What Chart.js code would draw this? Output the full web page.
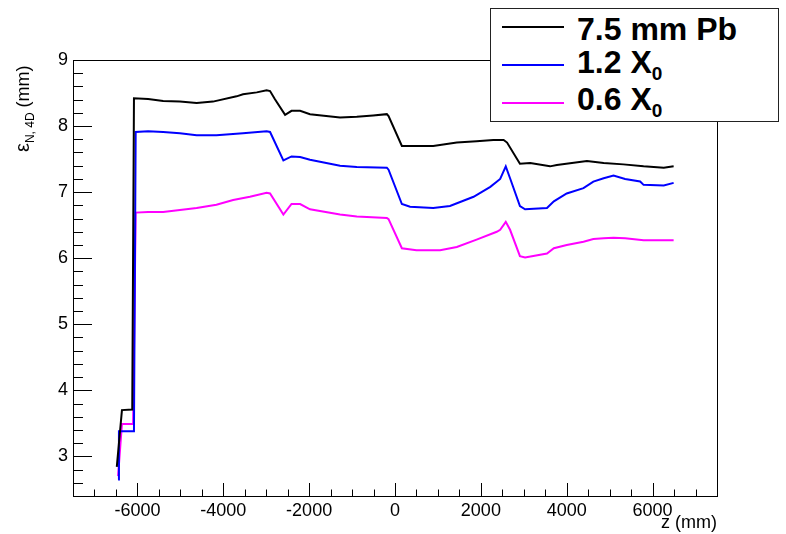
<!DOCTYPE html>
<html>
<head>
<meta charset="utf-8">
<script src="https://cdn.jsdelivr.net/npm/chart.js@4.4.1/dist/chart.umd.min.js"></script>
<style>
  body { margin: 0; background: #fff; }
  #wrap { position: relative; width: 786px; height: 534px; font-family: "Liberation Sans", Arial, sans-serif; color: #000; }
  #ytitle { position: absolute; left: 13px; top: 152px; transform: rotate(-90deg); transform-origin: left top;
    font-size: 18px; line-height: 18px; white-space: nowrap; }
  #ytitle .eps { font-size: 20px; }
  #ytitle .sub { position: relative; top: 5px; font-size: 12px; }
  #legend { position: absolute; left: 490px; top: 8px; width: 289px; height: 114px; box-sizing: border-box;
    background: #fff; border: 1px solid #222; }
  .lline { position: absolute; left: 502px; width: 62px; height: 2px; }
  .ltext { position: absolute; left: 577px; font-size: 32px; line-height: 32px; font-weight: bold; white-space: nowrap; }
  .ltext .sub { position: relative; top: 7px; font-size: 19px; }
</style>
</head>
<body>
<div id="wrap">
  <canvas id="myChart" width="786" height="534"></canvas>
  <div id="ytitle"><span class="eps">ε</span><span class="sub">N, 4D</span> (mm)</div>
  <div id="legend"></div>
  <div class="lline" style="top:26px; background:#000;"></div>
  <div class="ltext" style="top:13px;">7.5 mm Pb</div>
  <div class="lline" style="top:64px; background:#0000ff;"></div>
  <div class="ltext" style="top:46px;">1.2 X<span class="sub">0</span></div>
  <div class="lline" style="top:102px; background:#ff00ff;"></div>
  <div class="ltext" style="top:83px;">0.6 X<span class="sub">0</span></div>
</div>
<script>
// z positions (mm) and emittance (mm)
const zPb = [-6480, -6360, -6120, -6080, -5750, -5400, -5010, -4620, -4240, -3690, -3540, -3220, -2990, -2910,
  -2800, -2560, -2410, -2210, -1980, -1280, -890, -510, -190, -150, 160, 270, 890, 1440, 1900, 2290, 2530, 2610,
  2910, 3150, 3610, 3770, 4470, 4860, 5320, 5790, 6260, 6490];
const epsPb = [2.84, 3.70, 3.71, 8.42, 8.41, 8.38, 8.37, 8.35, 8.37, 8.45, 8.48, 8.51, 8.54, 8.53,
  8.41, 8.17, 8.23, 8.23, 8.18, 8.13, 8.14, 8.16, 8.18, 8.15, 7.70, 7.70, 7.70, 7.75, 7.77, 7.79, 7.79, 7.75,
  7.43, 7.44, 7.39, 7.41, 7.47, 7.44, 7.42, 7.39, 7.37, 7.39];

const zX12 = [-6450, -6430, -6080, -6040, -5750, -5400, -5010, -4620, -4160, -3540, -2990, -2910, -2600, -2410,
  -2210, -1980, -1280, -890, -190, -150, 160, 350, 890, 1280, 1830, 2220, 2450, 2580, 2680, 2910, 3030, 3540,
  3700, 4000, 4390, 4620, 4860, 5090, 5360, 5710, 5790, 6260, 6490];
const epsX12 = [2.65, 3.38, 3.38, 7.91, 7.92, 7.91, 7.89, 7.86, 7.86, 7.89, 7.92, 7.91, 7.48, 7.54,
  7.53, 7.49, 7.40, 7.38, 7.37, 7.34, 6.82, 6.78, 6.76, 6.79, 6.93, 7.08, 7.20, 7.39, 7.21, 6.79, 6.74, 6.76,
  6.86, 6.98, 7.06, 7.16, 7.21, 7.25, 7.20, 7.16, 7.11, 7.10, 7.14];

const zX06 = [-6450, -6360, -6100, -6040, -5750, -5400, -5010, -4620, -4160, -3770, -3380, -2990, -2910, -2600,
  -2410, -2210, -1980, -1280, -890, -190, -150, 160, 500, 1050, 1440, 1900, 2370, 2450, 2580, 2680, 2910, 3030,
  3540, 3700, 4000, 4390, 4620, 4860, 5090, 5360, 5790, 6260, 6490];
const epsX06 = [2.70, 3.49, 3.49, 6.69, 6.70, 6.70, 6.73, 6.76, 6.81, 6.88, 6.93, 6.99, 6.98, 6.66,
  6.82, 6.82, 6.74, 6.66, 6.63, 6.61, 6.59, 6.15, 6.12, 6.12, 6.17, 6.28, 6.40, 6.43, 6.55, 6.43, 6.03, 6.01,
  6.07, 6.15, 6.20, 6.25, 6.29, 6.30, 6.31, 6.30, 6.27, 6.27, 6.27];

const xTicks = [-6000, -4000, -2000, 0, 2000, 4000, 6000];
const yTicks = [3, 4, 5, 6, 7, 8, 9];

const toPoints = (zs, ys) => zs.map((z, i) => ({ x: z, y: ys[i] }));

// ROOT style frame with ticks drawn inside
const frameTicks = {
  id: "frameTicks",
  afterDatasetsDraw(chart) {
    const { ctx, chartArea: a, scales } = chart;
    ctx.save();
    ctx.strokeStyle = "#000";
    ctx.lineWidth = 1;
    ctx.beginPath();
    for (let v = -7000; v <= 7000; v += 500) {
      const px = Math.round(scales.x.getPixelForValue(v)) + 0.5;
      const len = v % 2000 === 0 ? 13 : 6.5;
      ctx.moveTo(px, a.bottom);
      ctx.lineTo(px, a.bottom - len);
    }
    for (let i = 13; i <= 44; i++) {
      const py = Math.round(scales.y.getPixelForValue(i / 5)) + 0.5;
      const len = i % 5 === 0 ? 19 : 10;
      ctx.moveTo(a.left, py);
      ctx.lineTo(a.left + len, py);
    }
    ctx.stroke();
    ctx.strokeRect(a.left + 0.5, a.top + 0.5, a.right - a.left, a.bottom - a.top);
    ctx.restore();
  },
};

const ctx = document.getElementById("myChart").getContext("2d");
const line = (label, zs, ys, color) => ({
  label,
  data: toPoints(zs, ys),
  showLine: true,
  borderColor: color,
  backgroundColor: color,
  borderWidth: 2,
  pointRadius: 0,
  tension: 0,
});

new Chart(ctx, {
  type: "scatter",
  data: {
    datasets: [
      line("7.5 mm Pb", zPb, epsPb, "#000000"),
      line("1.2 X0", zX12, epsX12, "#0000ff"),
      line("0.6 X0", zX06, epsX06, "#ff00ff"),
    ],
  },
  options: {
    responsive: false,
    animation: false,
    events: [],
    layout: { padding: { top: 60, right: 69, left: 0, bottom: 0 } },
    plugins: { legend: { display: false }, tooltip: { enabled: false } },
    scales: {
      x: {
        type: "linear",
        min: -7500,
        max: 7500,
        afterBuildTicks: (s) => { s.ticks = xTicks.map((v) => ({ value: v })); },
        afterFit: (s) => { s.height = 38; },
        grid: { display: false, drawTicks: false },
        border: { display: false },
        ticks: {
          color: "#000",
          padding: 4,
          maxRotation: 0,
          font: { family: "Liberation Sans", size: 18 },
          callback: (v) => String(v),
        },
        title: {
          display: true,
          text: "z (mm)",
          align: "end",
          color: "#000",
          padding: 0,
          font: { family: "Liberation Sans", size: 18 },
        },
      },
      y: {
        type: "linear",
        min: 2.4,
        max: 9,
        afterBuildTicks: (s) => { s.ticks = yTicks.map((v) => ({ value: v })); },
        afterFit: (s) => { s.width = 73; },
        grid: { display: false, drawTicks: false },
        border: { display: false },
        ticks: {
          color: "#000",
          padding: 5,
          font: { family: "Liberation Sans", size: 18 },
          callback: (v) => String(v),
        },
      },
    },
  },
  plugins: [frameTicks],
});
</script>
</body>
</html>
